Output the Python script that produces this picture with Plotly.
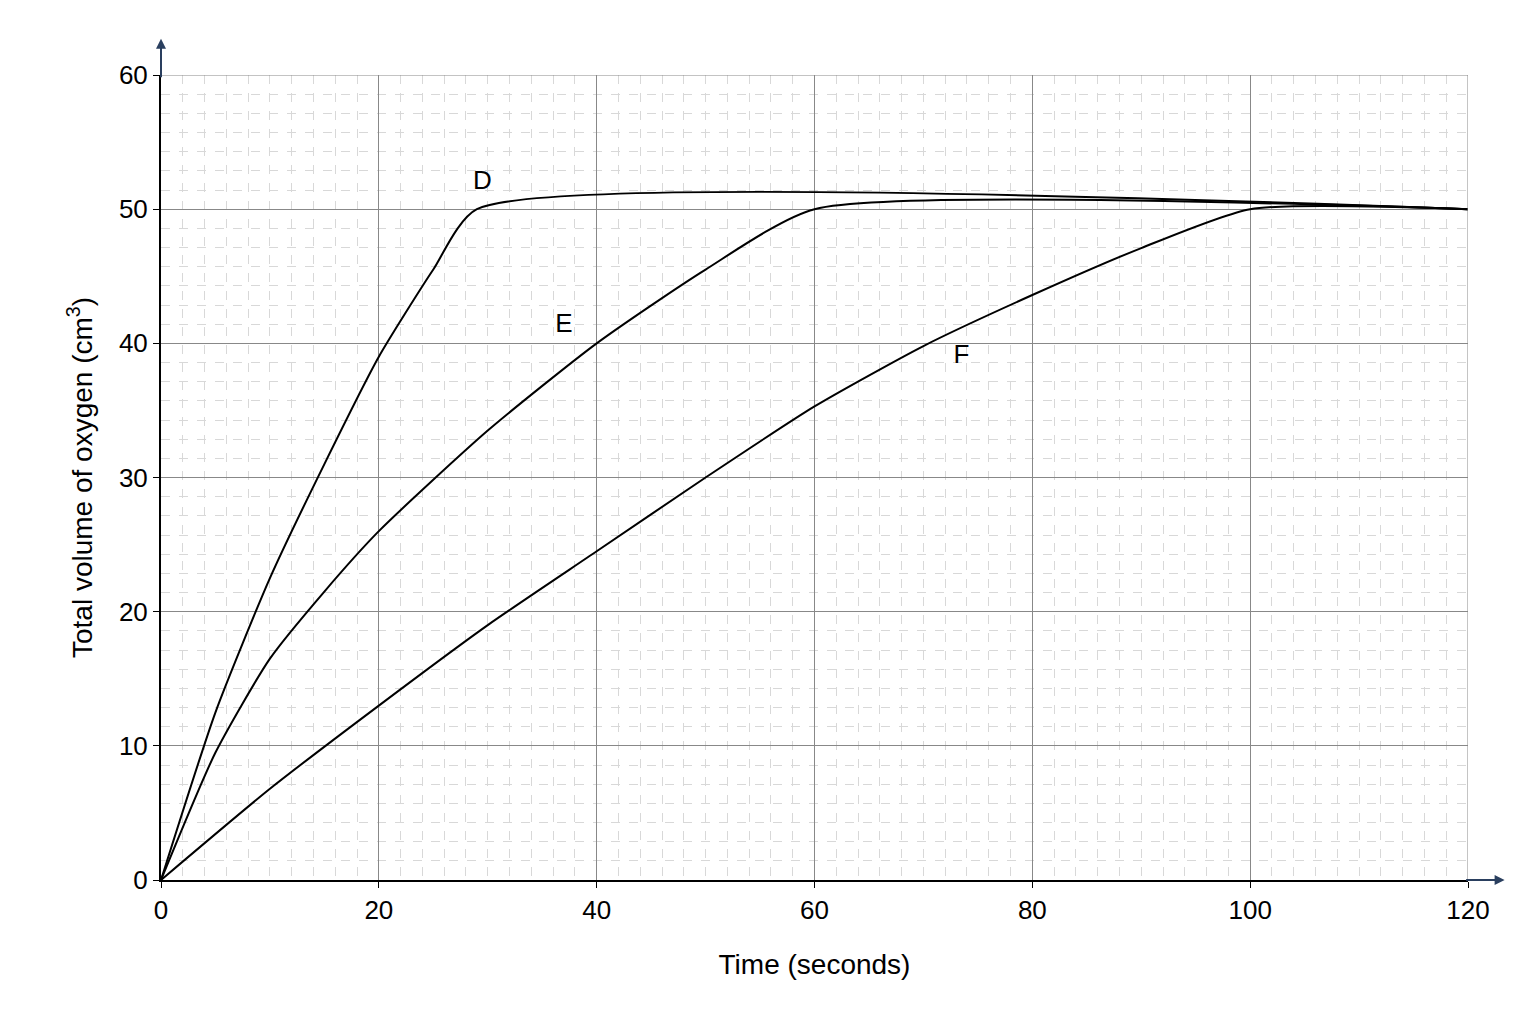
import plotly.graph_objects as go

d_time = [0, 5, 10, 15, 20, 25, 29, 120]
d_vol = [0, 12.5, 22.5, 31, 39, 45.5, 50, 50]
e_time = [0, 5, 10, 15, 20, 30, 40, 50, 60, 120]
e_vol = [0, 9.5, 16.5, 21.5, 26, 33.5, 40, 45.5, 50, 50]
f_time = [0, 10, 20, 30, 40, 50, 60, 70, 80, 90, 100, 120]
f_vol = [0, 6.8, 13, 19, 24.5, 30, 35.3, 39.8, 43.6, 47.1, 50, 50]
labels = ["D", "E", "F"]
label_x = [29.5, 37, 73.5]
label_y = [52, 41.3, 39]

fig = go.Figure()
for x, y in [(d_time, d_vol), (e_time, e_vol), (f_time, f_vol)]:
    fig.add_trace(go.Scatter(x=x, y=y, mode='lines', line=dict(color='black', width=2, shape='spline', smoothing=0.6),
                             showlegend=False))
fig.add_trace(go.Scatter(x=label_x, y=label_y, mode='text', text=labels,
                         textfont=dict(size=26, color='black', family='Liberation Sans'), showlegend=False))

# axis arrows
fig.add_annotation(x=1.028, y=0, xref='paper', yref='paper', ax=-40, ay=0,
                   showarrow=True, arrowhead=2, arrowwidth=2, arrowsize=1, text='')
fig.add_annotation(x=0, y=1.045, xref='paper', yref='paper', ax=0, ay=40,
                   showarrow=True, arrowhead=2, arrowwidth=2, arrowsize=1, text='')

axis_common = dict(showline=True, linecolor='black', linewidth=2, ticks='outside', ticklen=6, tickcolor='black',
                   gridcolor='#888', gridwidth=1, zeroline=False,
                   tickfont=dict(size=26, family='Liberation Sans', color='black'))
fig.update_xaxes(range=[0, 120], dtick=20, minor=dict(dtick=2, showgrid=True, gridcolor='#d8d8d8', griddash='dash'),
                 title=dict(text='Time (seconds)', font=dict(size=28, family='Liberation Sans', color='black'), standoff=30),
                 **axis_common)
fig.update_yaxes(range=[0, 60], dtick=10, minor=dict(dtick=10 / 7, showgrid=True, gridcolor='#d8d8d8', griddash='dash'),
                 title=dict(text='Total volume of oxygen (cm<sup>3</sup>)', font=dict(size=28, family='Liberation Sans', color='black'), standoff=18),
                 **axis_common)
fig.add_shape(type='line', xref='x', yref='paper', x0=120, x1=120, y0=0, y1=1, line=dict(color='#888', width=1))
fig.add_shape(type='line', xref='paper', yref='y', x0=0, x1=1, y0=60, y1=60, line=dict(color='#888', width=1))

fig.update_layout(width=1536, height=1024, plot_bgcolor='white', paper_bgcolor='white',
                  margin=dict(l=153, r=76, t=67, b=152))
fig.write_html("out.html")
